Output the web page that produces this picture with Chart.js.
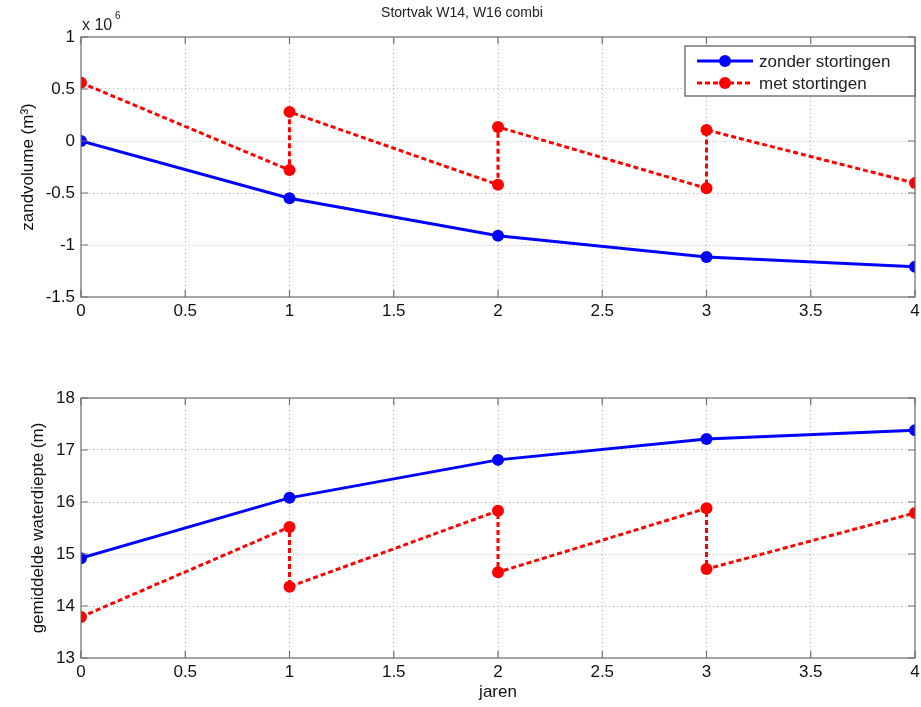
<!DOCTYPE html>
<html>
<head>
<meta charset="utf-8">
<script src="https://cdn.jsdelivr.net/npm/chart.js@4"></script>
<style>
    body { margin: 0; background: #fff; width: 921px; height: 707px; overflow: hidden; }
    canvas { position: absolute; left: 0; }
    #top-chart { top: 0; }
    #bottom-chart { top: 360px; }
</style>
</head>
<body>
<canvas id="top-chart" width="921" height="330"></canvas>
<canvas id="bottom-chart" width="921" height="347"></canvas>
<script>
/* Stortvak W14, W16 combi — zandvolume en waterdiepte */

// --- Data ---

const jarenZonder = [0, 1, 2, 3, 4];
const jarenMet = [0, 1, 1, 2, 2, 3, 3, 4];

// zandvolume in 10^6 m3
const volumeZonder = [0, -0.55, -0.91, -1.115, -1.21];
const volumeMet = [0.56, -0.28, 0.28, -0.42, 0.135, -0.455, 0.106, -0.405];

// gemiddelde waterdiepte in m
const diepteZonder = [14.92, 16.08, 16.81, 17.21, 17.38];
const diepteMet = [13.79, 15.52, 14.37, 15.83, 14.65, 15.88, 14.71, 15.79];

const xTicks = [0, 0.5, 1, 1.5, 2, 2.5, 3, 3.5, 4];
const volumeTicks = [-1.5, -1, -0.5, 0, 0.5, 1];
const diepteTicks = [13, 14, 15, 16, 17, 18];

const labelZonder = 'zonder stortingen';
const labelMet = 'met stortingen';

// --- Helpers ---

const FONT = 'Arial, "Liberation Sans", sans-serif';
const BLUE = '#0000ff';
const RED = '#ff0000';

function toPoints(xs, ys) {
    return xs.map((x, i) => ({ x, y: ys[i] }));
}

function setTicks(values) {
    return scale => { scale.ticks = values.map(v => ({ value: v })); };
}

// box round the axes plus inward tick marks, like matlab
const boxPlugin = {
    id: 'box',
    afterDraw(chart) {
        const { ctx, chartArea: a, scales } = chart;
        ctx.save();
        ctx.strokeStyle = '#6e6e6e';
        ctx.lineWidth = 1.2;
        ctx.strokeRect(a.left, a.top, a.right - a.left, a.bottom - a.top);
        ctx.beginPath();
        scales.x.ticks.forEach(t => {
            const px = scales.x.getPixelForValue(t.value);
            ctx.moveTo(px, a.bottom); ctx.lineTo(px, a.bottom - 7);
            ctx.moveTo(px, a.top); ctx.lineTo(px, a.top + 7);
        });
        scales.y.ticks.forEach(t => {
            const py = scales.y.getPixelForValue(t.value);
            ctx.moveTo(a.left, py); ctx.lineTo(a.left + 7, py);
            ctx.moveTo(a.right, py); ctx.lineTo(a.right - 7, py);
        });
        ctx.stroke();
        ctx.restore();
    }
};

// title, exponent and legend for the upper plot
const topDecorPlugin = {
    id: 'topDecor',
    afterDraw(chart) {
        const { ctx, chartArea: a } = chart;
        ctx.save();
        ctx.fillStyle = '#222';
        ctx.font = '14px ' + FONT;
        ctx.textAlign = 'center';
        ctx.textBaseline = 'middle';
        ctx.fillText('Stortvak W14, W16 combi', 462, 13);

        ctx.textAlign = 'left';
        ctx.font = '16px ' + FONT;
        ctx.fillText('x 10', a.left + 1, 26);
        ctx.font = '10px ' + FONT;
        ctx.fillText('6', a.left + 34, 16);

        // legend
        const lx = 685, ly = 46, lw = a.right - 685, lh = 50;
        ctx.fillStyle = '#fff';
        ctx.fillRect(lx, ly, lw, lh);
        ctx.strokeStyle = '#555';
        ctx.lineWidth = 1.2;
        ctx.strokeRect(lx, ly, lw, lh);
        const rows = [
            { label: labelZonder, color: BLUE, dash: [], y: ly + 15 },
            { label: labelMet, color: RED, dash: [5, 3], y: ly + 37 },
        ];
        rows.forEach(r => {
            ctx.strokeStyle = r.color;
            ctx.lineWidth = 3;
            ctx.setLineDash(r.dash);
            ctx.beginPath();
            ctx.moveTo(697, r.y); ctx.lineTo(753, r.y);
            ctx.stroke();
            ctx.setLineDash([]);
            ctx.fillStyle = r.color;
            ctx.beginPath();
            ctx.arc(725, r.y, 6, 0, Math.PI * 2);
            ctx.fill();
            ctx.fillStyle = '#222';
            ctx.font = '17px ' + FONT;
            ctx.fillText(r.label, 759, r.y + 1);
        });
        ctx.restore();
    }
};

function lineDataset(label, data, color, dash) {
    return {
        label,
        data,
        borderColor: color,
        backgroundColor: color,
        borderWidth: 3,
        borderDash: dash,
        pointRadius: 6,
        pointHoverRadius: 6,
        pointBorderWidth: 0,
        tension: 0,
        fill: false,
    };
}

function makeOptions(yMin, yMax, yTickValues, yTitle, yTitlePad, xTitle, xHeight) {
    const grid = {
        color: '#b4b4b4',
        lineWidth: 1,
        drawTicks: false,
    };
    const tickFont = { size: 17, family: FONT };
    return {
        responsive: false,
        animation: false,
        layout: { padding: { top: 38, right: 4, left: 0, bottom: 0 } },
        plugins: { legend: { display: false }, tooltip: { enabled: false } },
        scales: {
            x: {
                type: 'linear',
                min: 0,
                max: 4,
                afterBuildTicks: setTicks(xTicks),
                afterFit: s => { s.height = xHeight; s.paddingLeft = 0; s.paddingRight = 0; },
                border: { display: false, dash: [1, 3] },
                grid: { ...grid },
                ticks: { color: '#111', font: tickFont, padding: 4, maxRotation: 0,
                    callback: v => String(v) },
                title: xTitle ? { display: true, text: xTitle, color: '#111',
                    font: { size: 17, family: FONT }, padding: { top: 0 } } : { display: false },
            },
            y: {
                min: yMin,
                max: yMax,
                afterBuildTicks: setTicks(yTickValues),
                afterFit: s => { s.width = 81; },
                border: { display: false, dash: [1, 3] },
                grid: { ...grid },
                ticks: { color: '#111', font: tickFont, padding: 6, callback: v => String(v) },
                title: { display: true, text: yTitle, color: '#111',
                    font: { size: 17, family: FONT }, padding: { top: yTitlePad, bottom: 0 } },
            }
        }
    };
}

// --- Charts ---

new Chart(document.getElementById('top-chart'), {
    type: 'line',
    data: {
        datasets: [
            lineDataset(labelZonder, toPoints(jarenZonder, volumeZonder), BLUE, []),
            lineDataset(labelMet, toPoints(jarenMet, volumeMet), RED, [5, 3]),
        ]
    },
    options: (() => {
        const o = makeOptions(-1.5, 1, volumeTicks, 'zandvolume (m³)', 18, null, 33);
        o.layout.padding.top = 37;
        return o;
    })(),
    plugins: [boxPlugin, topDecorPlugin],
});

new Chart(document.getElementById('bottom-chart'), {
    type: 'line',
    data: {
        datasets: [
            lineDataset(labelZonder, toPoints(jarenZonder, diepteZonder), BLUE, []),
            lineDataset(labelMet, toPoints(jarenMet, diepteMet), RED, [5, 3]),
        ]
    },
    options: makeOptions(13, 18, diepteTicks, 'gemiddelde waterdiepte (m)', 28, 'jaren', 49),
    plugins: [boxPlugin],
});
</script>
</body>
</html>
